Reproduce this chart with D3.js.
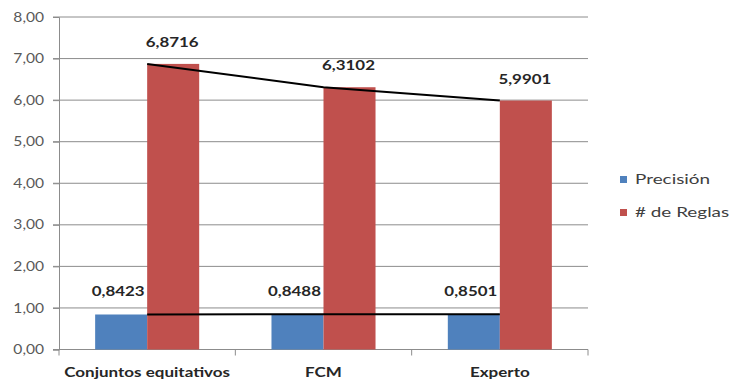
<!DOCTYPE html>
<html>
<head>
<meta charset="utf-8">
<script src="https://cdn.jsdelivr.net/npm/d3@7"></script>
<style>
  html, body { margin: 0; padding: 0; background: #fff; }
  svg { display: block; }
</style>
</head>
<body>
<svg id="chart" width="734" height="385"></svg>
<script>
// Chart data
const categories = ["Conjuntos equitativos", "FCM", "Experto"];
const precision = [0.8423, 0.8488, 0.8501];
const reglas = [6.8716, 6.3102, 5.9901];
const seriesNames = ["Precisión", "# de Reglas"];
const yTicks = [0, 1, 2, 3, 4, 5, 6, 7, 8];

const colors = ["#4F81BD", "#C0504D"];
const fmt = v => v.toFixed(4).replace(".", ",");
const fmtTick = v => v.toFixed(2).replace(".", ",");
const FONT = "Lato, 'Open Sans', sans-serif";

const svg = d3.select("#chart");
const W = 734, H = 385;
const x0 = 59, x1 = 588;
const yTop = 17, yBot = 349.5;

const x = d3.scaleBand().domain(categories).range([x0, x1])
  .paddingInner(0.41).paddingOuter(0.205);
const sub = d3.scaleBand().domain([0, 1]).range([0, x.bandwidth()]);
const y = d3.scaleLinear().domain([0, 8]).range([yBot, yTop]);

// Text drawn with a slight horizontal stretch (wide label face)
function label(parent, px, py, str, opts) {
  return parent.append("text")
    .attr("transform", `translate(${px},${py}) scale(${opts.sx},1)`)
    .attr("text-anchor", opts.anchor || "middle")
    .attr("fill", opts.fill || "#262626")
    .style("font-family", FONT)
    .style("font-weight", opts.bold ? "bold" : "normal")
    .style("font-size", opts.size + "px")
    .text(str);
}

// Gridlines
svg.append("g").selectAll("line").data(yTicks).join("line")
  .attr("x1", x0 - 6).attr("x2", x1)
  .attr("y1", d => y(d)).attr("y2", d => y(d))
  .attr("stroke", "#8c8c8c").attr("stroke-width", 1);

// Y axis
const tickSx = 1.2;
const yAxis = svg.append("g").attr("transform", `translate(${x0},0)`)
  .call(d3.axisLeft(y).tickValues(yTicks).tickFormat(fmtTick).tickSize(6));
yAxis.select(".domain").attr("stroke", "#8c8c8c");
yAxis.selectAll(".tick line").attr("stroke", "#8c8c8c");
yAxis.selectAll(".tick text")
  .attr("x", -15 / tickSx)
  .attr("transform", `scale(${tickSx},1)`)
  .attr("fill", "#595959")
  .style("font-family", FONT).style("font-size", "13px");

// X axis baseline and category dividers
const boundaries = [x0].concat(categories.map(c => x(c) + x.bandwidth() + x.step() * 0.41 / 2));
svg.append("line").attr("x1", x0).attr("x2", x1).attr("y1", yBot).attr("y2", yBot)
  .attr("stroke", "#8c8c8c");
svg.append("g").selectAll("line").data(boundaries).join("line")
  .attr("x1", d => d).attr("x2", d => d).attr("y1", yBot).attr("y2", yBot + 6)
  .attr("stroke", "#8c8c8c");

// Category labels
const catG = svg.append("g");
categories.forEach(c => {
  label(catG, x(c) + x.bandwidth() / 2, 377, c, { sx: 1.31, size: 13, bold: true });
});

// Bars
const series = [precision, reglas];
series.forEach((vals, si) => {
  svg.append("g").selectAll("rect").data(categories).join("rect")
    .attr("x", d => x(d) + sub(si))
    .attr("width", sub.bandwidth())
    .attr("y", (d, i) => y(vals[i]))
    .attr("height", (d, i) => yBot - y(vals[i]))
    .attr("fill", colors[si]);
});

// Connecting lines through category centres
const line = d3.line().x((d, i) => x(categories[i]) + x.bandwidth() / 2).y(d => y(d));
series.forEach(vals => {
  svg.append("path").datum(vals).attr("d", line)
    .attr("fill", "none").attr("stroke", "#000").attr("stroke-width", 2);
});

// Value labels above each bar
const labelGap = [18, 17];
series.forEach((vals, si) => {
  const g = svg.append("g");
  categories.forEach((c, i) => {
    label(g, x(c) + sub(si) + sub.bandwidth() / 2 + (si === 0 ? -3 : -1),
      y(vals[i]) - labelGap[si], fmt(vals[i]), { sx: 1.3, size: 13, bold: true });
  });
});

// Legend
const legend = svg.append("g").attr("transform", "translate(620,179)");
seriesNames.forEach((name, i) => {
  const g = legend.append("g").attr("transform", `translate(0,${i * 33})`);
  g.append("rect").attr("y", -3).attr("width", 7).attr("height", 7).attr("fill", colors[i]);
  label(g, 15, 5, name, { sx: 1.4, size: 13.5, anchor: "start", fill: "#404040" });
});
</script>
</body>
</html>
